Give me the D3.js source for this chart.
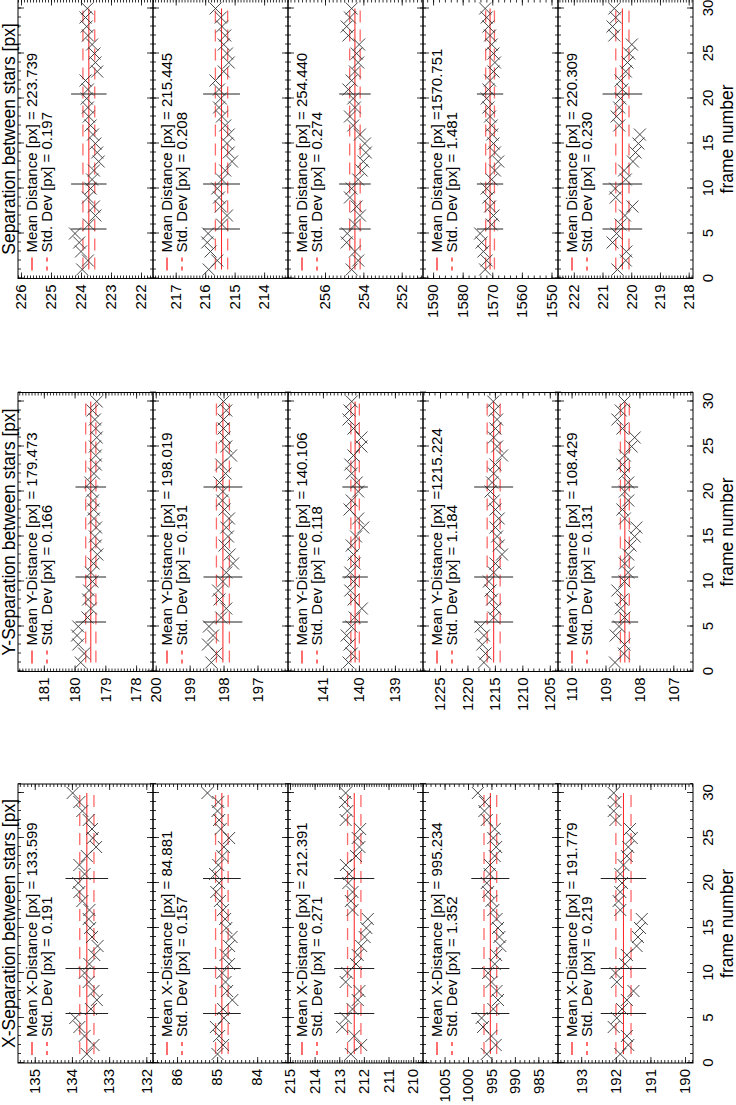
<!DOCTYPE html>
<html>
<head>
<meta charset="utf-8">
<script src="https://cdn.jsdelivr.net/npm/d3@7"></script>
<style>
  body { margin: 0; background: #fff; }
  text { font-family: "Liberation Sans", Arial, Helvetica, sans-serif; fill: #000; }
</style>
</head>
<body>
<svg id="chart" width="736" height="1105"></svg>
<script>
// frames 1..30, separator frames, frame ticks
var frames = d3.range(1, 31);
var sepFrames = [5.5, 10.5, 20.5];
var frameTicks = [0, 5, 10, 15, 20, 25, 30];

var titles = ["X-Separation between stars [px]", "Y-Separation between stars [px]", "Separation between stars [px]"];
var quantities = ["Mean X-Distance [px] =", "Mean Y-Distance [px] =", "Mean Distance [px] ="];

// X-separation
var xMeans = [133.599, 84.881, 212.391, 995.234, 191.779];
var xStds = [0.191, 0.157, 0.271, 1.352, 0.219];
var xRanges = [[131.82, 135.45], [83.23, 86.6], [209.6, 215.08], [980.8, 1009.6], [189.77, 193.67]];
var xSteps = [1, 1, 1, 5, 1];
var xSep1 = [133.60,133.42,133.66,133.80,133.91,133.49,133.33,133.42,133.55,133.66,133.53,133.40,133.31,133.46,133.51,133.55,133.53,133.72,133.80,133.83,133.66,133.80,133.60,133.35,133.44,133.46,133.55,133.72,133.80,133.98];
var xSep2 = [84.99,84.85,84.95,85.03,84.83,84.85,84.62,84.75,84.79,84.87,84.70,84.79,84.70,84.64,84.77,84.80,84.85,84.93,85.02,84.95,85.05,84.97,84.87,84.83,84.70,84.91,84.95,84.99,84.97,85.24];
var xSep3 = [212.53,212.11,212.39,212.88,212.74,212.46,212.25,212.18,212.74,212.67,212.32,212.25,212.11,211.97,211.90,211.84,212.46,212.53,212.46,212.63,212.60,212.73,212.32,212.18,212.25,212.15,212.74,212.67,212.77,212.74];
var xSep4 = [996.0,994.1,995.0,996.8,997.1,994.6,993.6,993.9,995.0,995.7,994.3,994.0,993.1,993.3,993.6,993.9,994.6,995.0,995.7,996.0,995.4,995.3,994.3,994.0,994.6,994.3,996.0,996.5,996.4,997.9];
var xSep5 = [191.87,191.64,191.68,192.06,191.97,191.82,191.68,191.49,191.97,192.01,191.73,191.68,191.40,191.36,191.30,191.25,191.87,191.92,191.87,191.82,191.87,191.78,191.68,191.64,191.54,191.59,192.01,192.06,192.01,192.06];

// Y-separation
var yMeans = [179.473, 198.019, 140.106, 1215.224, 108.429];
var yStds = [0.166, 0.191, 0.118, 1.184, 0.131];
var yRanges = [[177.45, 181.84], [196.1, 200.08], [138.22, 141.97], [1203.5, 1228.1], [106.42, 110.4]];
var ySteps = [1, 1, 1, 5, 1];
var ySep1 = [179.80,179.69,179.88,179.92,179.88,179.58,179.47,179.56,179.53,179.42,179.47,179.38,179.26,179.31,179.34,179.30,179.37,179.38,179.40,179.44,179.49,179.37,179.31,179.31,179.34,179.28,179.31,179.34,179.42,179.28];
var ySep2 = [198.36,198.21,198.46,198.31,198.43,198.07,197.92,198.12,198.16,198.02,197.92,197.72,197.82,197.97,197.87,197.92,197.84,197.97,198.04,198.02,198.12,197.94,198.07,197.78,197.92,197.97,198.00,198.00,197.92,198.00];
var ySep3 = [140.29,140.20,140.26,140.34,140.21,140.12,139.92,140.15,140.24,140.15,140.24,140.12,140.15,140.20,140.08,139.88,140.02,140.26,140.20,140.02,140.06,140.20,140.24,140.15,139.93,139.93,140.15,140.29,140.26,140.20];
var ySep4 = [1217.0,1216.7,1217.3,1217.0,1217.6,1215.2,1214.9,1215.5,1215.8,1216.1,1215.2,1214.9,1213.7,1214.3,1214.6,1214.9,1214.3,1214.9,1215.2,1215.8,1215.5,1215.2,1214.9,1213.7,1214.6,1215.2,1214.9,1214.6,1215.1,1215.3];
var ySep5 = [108.72,108.46,108.44,108.70,108.60,108.44,108.55,108.50,108.65,108.44,108.33,108.43,108.33,108.26,108.14,108.09,108.43,108.50,108.33,108.43,108.33,108.44,108.50,108.43,108.23,108.14,108.50,108.65,108.55,108.44];

// total separation
var sMeans = [223.739, 215.445, 254.440, 1570.751, 220.309];
var sStds = [0.197, 0.208, 0.274, 1.481, 0.230];
var sRanges = [[221.6, 226.1], [213.19, 217.77], [250.89, 257.93], [1547.8, 1593.4], [217.85, 222.55]];
var sSteps = [1, 1, 2, 10, 1];
var sep1 = [223.96,223.77,224.00,224.06,224.20,223.74,223.52,223.57,223.77,223.68,223.63,223.57,223.41,223.46,223.52,223.60,223.68,223.74,223.77,223.81,223.77,223.85,223.46,223.52,223.55,223.63,223.77,223.81,223.85,223.79];
var sep2 = [215.88,215.59,215.82,215.93,215.90,215.43,215.26,215.47,215.53,215.59,215.43,215.32,215.09,215.20,215.26,215.20,215.32,215.43,215.53,215.47,215.53,215.65,215.37,215.20,215.26,215.37,215.32,215.43,215.47,215.65];
var sep3 = [254.61,254.27,254.44,254.87,254.84,254.44,254.18,254.35,254.70,254.61,254.27,254.09,254.00,253.87,253.92,254.18,254.53,254.70,254.44,254.53,254.78,254.61,254.44,254.27,254.35,254.22,254.78,254.87,254.70,254.61];
var sep4 = [1572.4,1571.9,1573.0,1573.6,1574.1,1570.2,1569.6,1570.75,1571.3,1571.9,1570.2,1569.1,1568.0,1569.1,1569.6,1570.0,1570.2,1570.75,1571.3,1571.9,1571.3,1570.75,1569.6,1569.1,1569.6,1570.2,1570.75,1571.3,1571.9,1572.4];
var sep5 = [220.48,220.19,220.17,220.65,220.51,220.37,220.22,219.96,220.54,220.56,220.19,220.25,219.94,219.85,219.75,219.70,220.42,220.51,220.42,220.37,220.31,220.37,220.19,220.13,220.07,219.98,220.59,220.65,220.54,220.59];

var groups = [
  { means: xMeans, stds: xStds, ranges: xRanges, steps: xSteps, series: [xSep1, xSep2, xSep3, xSep4, xSep5] },
  { means: yMeans, stds: yStds, ranges: yRanges, steps: ySteps, series: [ySep1, ySep2, ySep3, ySep4, ySep5] },
  { means: sMeans, stds: sStds, ranges: sRanges, steps: sSteps, series: [sep1, sep2, sep3, sep4, sep5] }
];

// the page is drawn landscape (1105 x 736) and turned a quarter to the left
var svg = d3.select("#chart");
var root = svg.append("g").attr("transform", "translate(0,1105) rotate(-90)");

var groupX = [42, 433.5, 826.5], groupW = 279;
var panelTop = 18, panelH = 135;
var fmt3 = d3.format(".3f");

function styleAxis(sel) {
  sel.select(".domain").remove();
  sel.selectAll("line").attr("stroke", "#000").attr("stroke-width", 0.8);
  sel.selectAll("text").attr("fill", "#000")
    .style("font-size", "15px")
    .style("font-family", "'Liberation Sans', Arial, sans-serif");
}

function stepsIn(lo, hi, step) {
  var out = [];
  for (var k = Math.ceil(lo / step - 1e-9); k * step <= hi + 1e-9; k++) out.push(+(k * step).toFixed(4));
  return out;
}

groups.forEach(function(gr, gi) {
  var x0 = groupX[gi];
  var x = d3.scaleLinear().domain([0, 31]).range([x0, x0 + groupW]);
  var g = root.append("g");

  g.append("text")
    .attr("x", x0 + groupW / 2).attr("y", 15)
    .attr("text-anchor", "middle")
    .style("font-size", "17.5px")
    .text(titles[gi]);

  for (var p = 0; p < 5; p++) {
    var top = panelTop + p * panelH;
    var y = d3.scaleLinear().domain(gr.ranges[p]).range([top + panelH, top]);
    var step = gr.steps[p];
    var mstep = (step === 5 || step === 10) ? step / 5 : step / 10;
    var major = stepsIn(gr.ranges[p][0], gr.ranges[p][1], step);
    var minor = stepsIn(gr.ranges[p][0], gr.ranges[p][1], mstep);
    var pg = g.append("g");

    // value axes (left with labels, right ticks only)
    pg.append("g").attr("transform", "translate(" + x0 + ",0)")
      .call(d3.axisLeft(y).tickValues(minor).tickSizeInner(-3).tickSizeOuter(0).tickFormat(""))
      .call(styleAxis);
    pg.append("g").attr("transform", "translate(" + x0 + ",0)")
      .call(d3.axisLeft(y).tickValues(major).tickSizeInner(-6).tickSizeOuter(0).tickPadding(6).tickFormat(d3.format("d")))
      .call(styleAxis);
    pg.append("g").attr("transform", "translate(" + (x0 + groupW) + ",0)")
      .call(d3.axisRight(y).tickValues(minor).tickSizeInner(-3).tickSizeOuter(0).tickFormat(""))
      .call(styleAxis);
    pg.append("g").attr("transform", "translate(" + (x0 + groupW) + ",0)")
      .call(d3.axisRight(y).tickValues(major).tickSizeInner(-6).tickSizeOuter(0).tickFormat(""))
      .call(styleAxis);

    // frame axes (top and bottom of each panel)
    pg.append("g").attr("transform", "translate(0," + top + ")")
      .call(d3.axisTop(x).tickValues(d3.range(0, 32)).tickSizeInner(-3).tickSizeOuter(0).tickFormat(""))
      .call(styleAxis);
    pg.append("g").attr("transform", "translate(0," + top + ")")
      .call(d3.axisTop(x).tickValues(frameTicks).tickSizeInner(-6).tickSizeOuter(0).tickFormat(""))
      .call(styleAxis);
    pg.append("g").attr("transform", "translate(0," + (top + panelH) + ")")
      .call(d3.axisBottom(x).tickValues(d3.range(0, 32)).tickSizeInner(-3).tickSizeOuter(0).tickFormat(""))
      .call(styleAxis);
    pg.append("g").attr("transform", "translate(0," + (top + panelH) + ")")
      .call(d3.axisBottom(x).tickValues(frameTicks).tickSizeInner(-6).tickSizeOuter(0).tickPadding(9.5)
        .tickFormat(p === 4 ? d3.format("d") : ""))
      .call(styleAxis);

    // box
    pg.append("rect")
      .attr("x", x0).attr("y", top).attr("width", groupW).attr("height", panelH)
      .attr("fill", "none").attr("stroke", "#000").attr("stroke-width", 1);

    var mean = gr.means[p], sd = gr.stds[p];

    // mean and +-1 sigma lines
    pg.append("line")
      .attr("x1", x(1)).attr("x2", x(30)).attr("y1", y(mean)).attr("y2", y(mean))
      .attr("stroke", "#ff2020").attr("stroke-width", 1);
    [mean - sd, mean + sd].forEach(function(v) {
      pg.append("line")
        .attr("x1", x(1)).attr("x2", x(30)).attr("y1", y(v)).attr("y2", y(v))
        .attr("stroke", "#ff6a6a").attr("stroke-width", 1.3)
        .attr("stroke-dasharray", "12,7");
    });

    // block separators, mean +- 3 sigma
    sepFrames.forEach(function(f) {
      pg.append("line")
        .attr("x1", x(f)).attr("x2", x(f)).attr("y1", y(mean - 3 * sd)).attr("y2", y(mean + 3 * sd))
        .attr("stroke", "#222").attr("stroke-width", 1);
    });

    // data crosses
    pg.selectAll(".pt")
      .data(gr.series[p])
      .enter().append("path")
        .attr("class", "pt")
        .attr("transform", function(d, i) { return "translate(" + x(frames[i]) + "," + y(d) + ")"; })
        .attr("d", "M-6,-6L6,6M-6,6L6,-6")
        .attr("fill", "none").attr("stroke", "#333").attr("stroke-width", 0.9);

    // legend
    pg.append("line")
      .attr("x1", x0 + 8).attr("x2", x0 + 21).attr("y1", top + 14).attr("y2", top + 14)
      .attr("stroke", "#ff2020").attr("stroke-width", 1.3);
    pg.append("line")
      .attr("x1", x0 + 8).attr("x2", x0 + 21).attr("y1", top + 29).attr("y2", top + 29)
      .attr("stroke", "#ff2020").attr("stroke-width", 1.3).attr("stroke-dasharray", "4,5");
    var ms = fmt3(mean);
    pg.append("text")
      .attr("x", x0 + 26).attr("y", top + 19)
      .style("font-size", "15px")
      .text(quantities[gi] + (ms.length < 8 ? " " : "") + ms);
    pg.append("text")
      .attr("x", x0 + 26).attr("y", top + 34)
      .style("font-size", "15px")
      .text("Std. Dev [px] = " + fmt3(sd));
  }

  g.append("text")
    .attr("x", x0 + groupW / 2).attr("y", 733)
    .attr("text-anchor", "middle")
    .style("font-size", "17.5px")
    .text("frame number");
});
</script>
</body>
</html>
